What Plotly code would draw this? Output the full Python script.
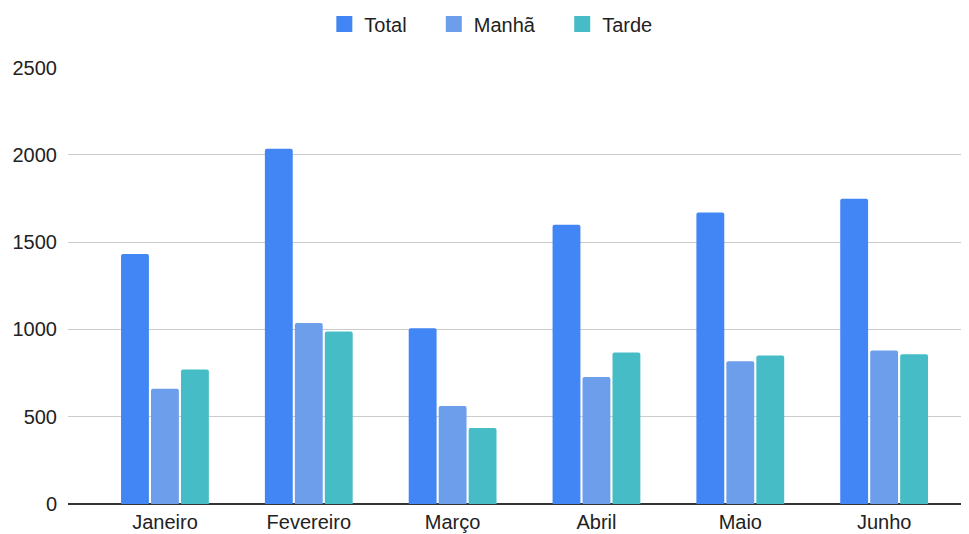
import plotly.graph_objects as go

months = ["Janeiro", "Fevereiro", "Março", "Abril", "Maio", "Junho"]
total = [1432, 2035, 1007, 1600, 1669, 1749]
manha = [660, 1037, 562, 728, 818, 879]
tarde = [770, 988, 435, 868, 851, 858]

series = [("Total", total, "#4285F4"), ("Manhã", manha, "#6D9EEB"), ("Tarde", tarde, "#46BDC6")]
pad = "\u00a0" * 4

fig = go.Figure()
for name, vals, col in series:
    fig.add_trace(go.Bar(x=months, y=vals, name=name, showlegend=False,
                         marker=dict(color=col, line=dict(width=0), cornerradius=2)))
for i, (name, vals, col) in enumerate(series):
    label = name + (pad if i < len(series) - 1 else "")
    fig.add_trace(go.Scatter(x=[months[0]], y=[None], name=label, mode="markers",
                             marker=dict(color=col, symbol="square", size=16), hoverinfo="skip"))

fig.update_layout(
    width=961, height=526,
    margin=dict(l=60, r=0, t=59, b=30, autoexpand=False),
    paper_bgcolor="white", plot_bgcolor="white",
    font=dict(family="Arial, 'Liberation Sans', sans-serif", size=20, color="#222222"),
    barmode="group", bargap=0.375, bargroupgap=0.07,
    legend=dict(orientation="h", x=0.2845, xanchor="left", y=0.9696, yref="container", yanchor="middle",
                font=dict(size=20, color="#222222"), itemwidth=30),
    xaxis=dict(range=[-0.674, 5.59], showgrid=False, showline=False, ticks="", zeroline=False,
               ticklabelstandoff=4, automargin=False),
    yaxis=dict(range=[0, 2503], dtick=500, showgrid=True, gridcolor="#cccccc", gridwidth=1,
               zeroline=True, zerolinecolor="#333333", zerolinewidth=2, ticks="", ticklabelstandoff=10,
               automargin=False),
)
fig.write_html("out.html")
